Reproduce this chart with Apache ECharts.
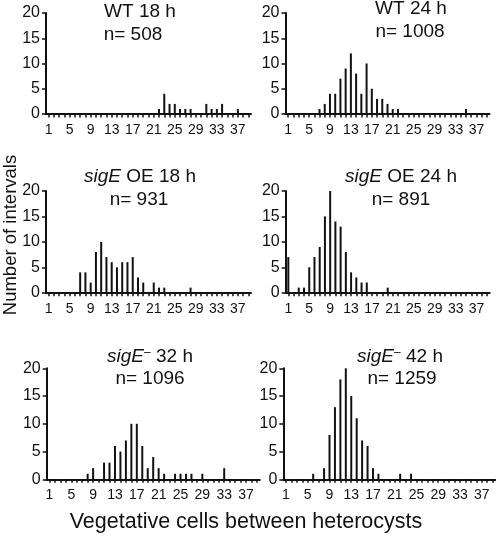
<!DOCTYPE html>
<html><head><meta charset="utf-8">
<script src="https://cdn.jsdelivr.net/npm/echarts@6/dist/echarts.min.js"></script>
<style>html,body{margin:0;padding:0;background:#fff}#c{width:496px;height:536px}</style>
</head><body><div id="c"></div>
<script>
// ---- data ----
const categories = ['1','2','3','4','5','6','7','8','9','10','11','12','13','14','15','16','17','18','19','20',
  '21','22','23','24','25','26','27','28','29','30','31','32','33','34','35','36','37','38','39'];
const yMin = 0, yMax = 20, yStep = 5;

const wt18Cells  = [22,23,24,25,26,27,28,31,32,33,34,37];
const wt18Counts = [1,4,2,2,1,1,1,2,1,1,2,1];

const wt24Cells  = [7,8,9,10,11,12,13,14,15,16,17,18,19,20,21,22,35];
const wt24Counts = [1,2,4,4,7,9,12,8,4,10,5,3,3,2,1,1,1];

const oe18Cells  = [7,8,9,10,11,12,13,14,15,16,17,18,19,21,22,23,28];
const oe18Counts = [4,4,2,8,10,7,6,5,6,6,7,3,2,2,1,1,1];

const oe24Cells  = [1,3,4,5,6,7,8,9,10,11,12,13,14,15,16,20];
const oe24Counts = [7,1,1,5,7,9,15,20,14,13,8,4,3,2,2,1];

const mut32Cells  = [8,9,11,12,13,14,15,16,17,18,19,20,21,22,24,25,26,27,29,33];
const mut32Counts = [1,2,3,3,6,5,7,10,10,6,2,4,2,1,1,1,1,1,1,2];

const mut42Cells  = [6,8,9,10,11,12,13,14,15,16,17,18,22,24];
const mut42Counts = [1,2,8,13,18,20,15,11,7,6,2,1,1,1];

const titles = [
  {main: 'WT 18 h', n: 'n= 508'},
  {main: 'WT 24 h', n: 'n= 1008'},
  {main: '{i|sigE} OE 18 h', n: 'n= 931'},
  {main: '{i|sigE} OE 24 h', n: 'n= 891'},
  {main: '{i|sigE}{s|–} 32 h', n: 'n= 1096'},
  {main: '{i|sigE}{s|–} 42 h', n: 'n= 1259'}
];
const xTitle = 'Vegetative cells between heterocysts';
const yTitle = 'Number of intervals';

// ---- layout ----
const panels = [
  {cells: wt18Cells, counts: wt18Counts, grid: {left: 46, top: 13, width: 205, height: 101}, t: [140, 12, 133, 35]},
  {cells: wt24Cells, counts: wt24Counts, grid: {left: 285.5, top: 13, width: 204, height: 101}, t: [411, 9, 410, 32]},
  {cells: oe18Cells, counts: oe18Counts, grid: {left: 46, top: 191, width: 205, height: 101.7}, t: [140, 177, 139, 200]},
  {cells: oe24Cells, counts: oe24Counts, grid: {left: 285.7, top: 191, width: 204, height: 101.7}, t: [401, 177, 401, 200]},
  {cells: mut32Cells, counts: mut32Counts, grid: {left: 46.7, top: 368.3, width: 213, height: 111}, t: [150, 357, 150, 379]},
  {cells: mut42Cells, counts: mut42Counts, grid: {left: 283.3, top: 368.3, width: 212, height: 111}, t: [400, 357, 402, 379]}
];

const FONT = 'Liberation Sans, Arial, Helvetica, sans-serif';
const INK = '#111';

const grid = [], xAxis = [], yAxis = [], series = [], graphic = [];
panels.forEach((p, k) => {
  grid.push(Object.assign({containLabel: false}, p.grid));
  xAxis.push({
    type: 'category', gridIndex: k, data: categories, boundaryGap: true,
    axisLine: {show: true, onZero: false, lineStyle: {color: INK, width: 2}},
    axisTick: {show: true, interval: 0, alignWithLabel: true, length: 3.5, lineStyle: {color: INK, width: 1.5}},
    axisLabel: {interval: (i) => i % 4 === 0, color: INK, fontFamily: FONT, fontSize: 14, margin: 9},
    splitLine: {show: false}
  });
  yAxis.push({
    type: 'value', gridIndex: k, min: yMin, max: yMax, interval: yStep,
    axisLine: {show: true, lineStyle: {color: INK, width: 2}},
    axisTick: {show: true, length: 4, lineStyle: {color: INK, width: 1.5}},
    axisLabel: {color: INK, fontFamily: FONT, fontSize: 16, margin: 6},
    splitLine: {show: false}
  });
  series.push({
    type: 'bar', xAxisIndex: k, yAxisIndex: k, barWidth: 2,
    itemStyle: {color: INK}, silent: true, animation: false,
    data: p.cells.map((c, j) => [String(c), p.counts[j]])
  });
  const rich = {i: {fontStyle: 'italic', fontSize: 19, fontFamily: FONT, fill: INK},
                s: {fontSize: 12, fontFamily: FONT, fill: INK, padding: [0, 0, 9, 0]}};
  graphic.push({type: 'text', x: p.t[0], y: p.t[1], style: {text: titles[k].main, rich: rich,
    font: '19px ' + FONT, fill: INK, align: 'center', verticalAlign: 'middle'}});
  graphic.push({type: 'text', x: p.t[2], y: p.t[3], style: {text: titles[k].n,
    font: '19px ' + FONT, fill: INK, align: 'center', verticalAlign: 'middle'}});
});
graphic.push({type: 'text', x: 246, y: 522, style: {text: xTitle, font: '21.5px ' + FONT, fill: INK, align: 'center', verticalAlign: 'middle'}});
graphic.push({type: 'text', x: 11, y: 235, rotation: Math.PI / 2, style: {text: yTitle, font: '18.5px ' + FONT, fill: INK, align: 'center', verticalAlign: 'middle'}});

const chart = echarts.init(document.getElementById('c'), null, {renderer: 'canvas'});
chart.setOption({animation: false, backgroundColor: '#fff', grid, xAxis, yAxis, series, graphic});
</script></body></html>
